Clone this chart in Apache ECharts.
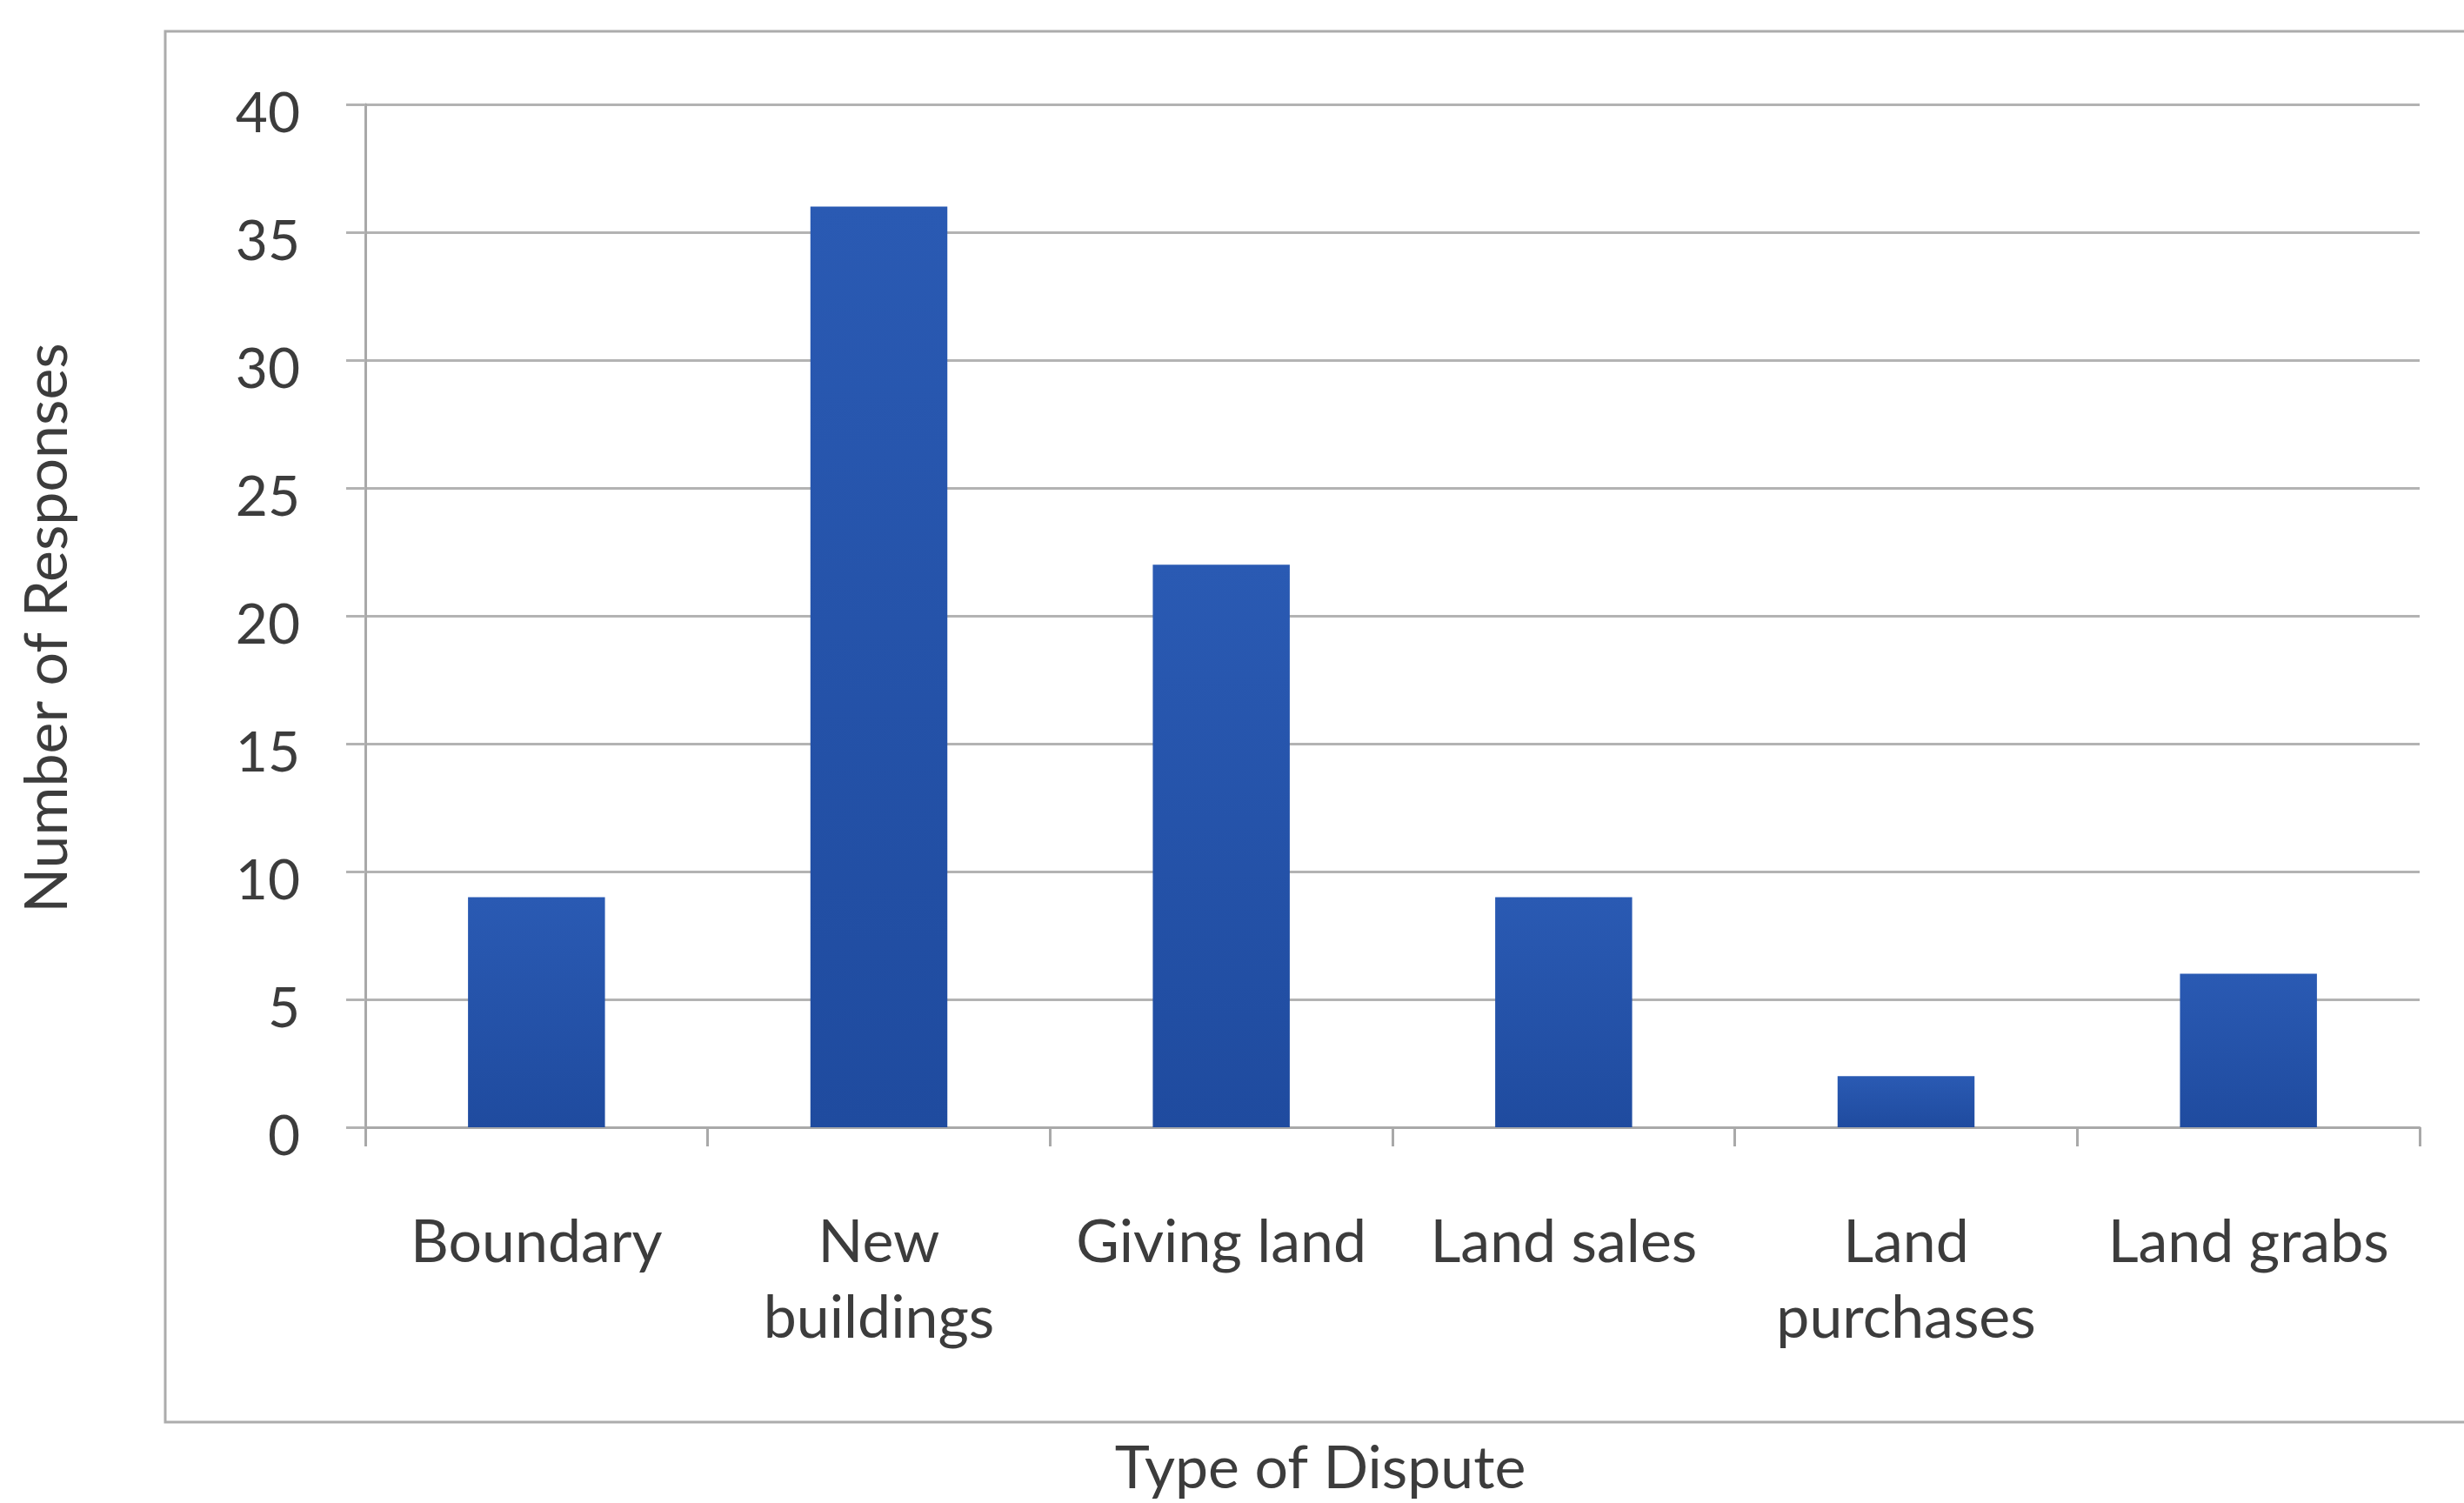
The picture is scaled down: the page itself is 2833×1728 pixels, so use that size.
<!DOCTYPE html>
<html>
<head>
<meta charset="utf-8">
<script src="https://cdn.jsdelivr.net/npm/echarts@6/dist/echarts.min.js"></script>
<style>
  html, body { margin: 0; padding: 0; background: #ffffff; }
  #chart { width: 2833px; height: 1728px; }
</style>
</head>
<body>
<div id="chart"></div>
<script>
// Survey results: reported land disputes by type
const categories = ['Boundary', 'New\nbuildings', 'Giving land', 'Land sales', 'Land\npurchases', 'Land grabs'];
const responses = [9, 36, 22, 9, 2, 6];
const yTicks = { min: 0, max: 40, interval: 5 };

const FONT = 'Lato';
const TEXT = '#3c3c3c';
const GRID = '#b3b3b3';

const chart = echarts.init(document.getElementById('chart'), null, { renderer: 'canvas' });

chart.setOption({
  backgroundColor: '#ffffff',
  animation: false,
  textStyle: { fontFamily: FONT },
  graphic: [{
    type: 'rect',
    z: -1,
    shape: { x: 190, y: 36, width: 2700, height: 1599 },
    style: { fill: 'none', stroke: '#acacac', lineWidth: 3 }
  }],
  grid: { left: 420, right: 51, top: 120, bottom: 418, containLabel: false },
  xAxis: {
    type: 'category',
    data: categories,
    name: 'Type of Dispute',
    nameLocation: 'middle',
    nameGap: 359,
    // title is centred on the framed chart area rather than the plot
    nameTextStyle: { fontFamily: FONT, fontSize: 68, color: TEXT, padding: [0, 166, 0, 0] },
    axisLine: { show: true, lineStyle: { color: '#a9a9a9', width: 3 } },
    axisTick: { show: true, length: 22, lineStyle: { color: '#a9a9a9', width: 3 } },
    axisLabel: {
      fontFamily: FONT, fontSize: 68, color: TEXT,
      margin: 90, lineHeight: 87, interval: 0
    }
  },
  yAxis: {
    type: 'value',
    min: yTicks.min,
    max: yTicks.max,
    interval: yTicks.interval,
    name: 'Number of Responses',
    nameLocation: 'middle',
    nameRotate: 90,
    nameGap: 331,
    nameTextStyle: { fontFamily: FONT, fontSize: 68, color: TEXT, padding: [0, 28, 0, 0] },
    axisLine: { show: true, lineStyle: { color: '#a9a9a9', width: 3 } },
    axisTick: { show: true, length: 22, lineStyle: { color: GRID, width: 3 } },
    splitLine: { show: true, lineStyle: { color: GRID, width: 3 } },
    // numbers sit slightly below their gridline
    axisLabel: {
      fontFamily: FONT, fontSize: 64, color: TEXT, margin: 75,
      verticalAlign: 'top', lineHeight: 22
    }
  },
  series: [{
    type: 'bar',
    data: responses,
    barWidth: '40%',
    itemStyle: {
      color: new echarts.graphic.LinearGradient(0, 0, 0, 1, [
        { offset: 0, color: '#2a5ab3' },
        { offset: 1, color: '#1f4b9f' }
      ])
    }
  }]
});
</script>
</body>
</html>
